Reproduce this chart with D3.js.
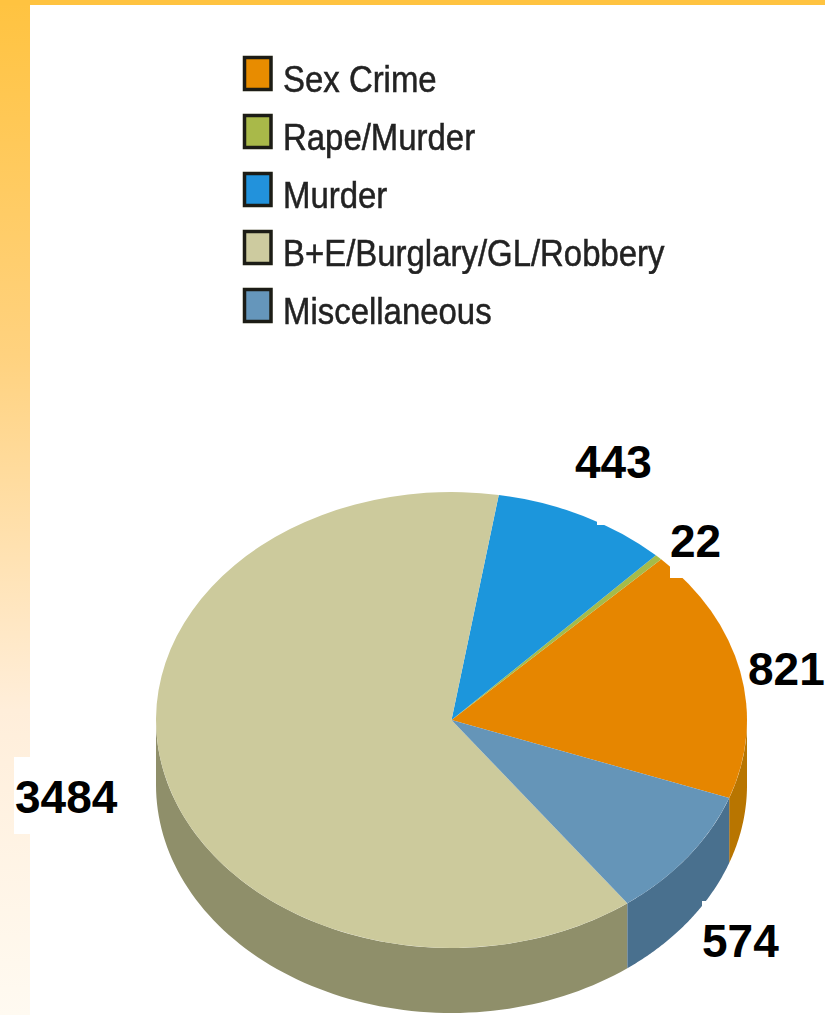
<!DOCTYPE html>
<html lang="en">
<head>
    <meta charset="UTF-8">
    <title>Crime categories</title>
    <script src="https://cdn.jsdelivr.net/npm/d3@7"></script>
    <style>
        html, body { margin: 0; padding: 0; background: #fff; }
        svg { display: block; }
        .legend-label { font-family: "Liberation Sans", Arial, sans-serif; font-size: 37px; fill: #222; stroke: #222; stroke-width: 0.5px; }
        .count-label { font-family: "Liberation Sans", Arial, sans-serif; font-size: 46px; font-weight: bold; fill: #000; }
    </style>
</head>
<body>
    <svg width="825" height="1015"></svg>
    <script>
        var categories = ['Sex Crime', 'Rape/Murder', 'Murder', 'B+E/Burglary/GL/Robbery', 'Miscellaneous'];
        // numbers printed next to the pie
        var counts = [821, 22, 443, 3484, 574];
        // share of the circle each slice really takes up in the picture (%),
        // the printed counts do not give these angles
        var sliceShares = [18.0, 0.4, 9.6, 62.7, 9.3];

        var topColors = ['#e68600', '#a5bb4a', '#1e96dc', '#ccca9c', '#6595b8'];
        var sideColors = ['#b87400', '#7f8c3a', '#17709f', '#8f8f6b', '#4a6f8e'];
        var swatchColors = ['#e88c00', '#a9b948', '#2092dc', '#cdcb9f', '#6596bb'];

        // where each count sits: x, baseline y, and the white patch behind it
        var labelSpots = [
            { x: 748, y: 685 },
            { x: 670, y: 557, patch: [670, 525, 52, 53] },
            { x: 575, y: 478, patch: [597, 490, 73, 35] },
            { x: 15, y: 813, patch: [14, 757, 129, 77] },
            { x: 702, y: 957, patch: [702, 901, 84, 74] }
        ];

        var svg = d3.select('svg'),
            width = parseInt(svg.attr('width')),
            height = parseInt(svg.attr('height')),
            cx = 451.5,
            cy = 720,
            rx = 295.5,
            ry = 228,
            depth = 65,
            rad = Math.PI / 180;

        var defs = svg.append('defs');

        var grad = defs.append('linearGradient')
            .attr('id', 'band')
            .attr('x1', 0).attr('y1', 0)
            .attr('x2', 0).attr('y2', 1);
        grad.append('stop').attr('offset', '0%').attr('stop-color', '#ffc340');
        grad.append('stop').attr('offset', '35%').attr('stop-color', '#ffd27f');
        grad.append('stop').attr('offset', '70%').attr('stop-color', '#ffeeda');
        grad.append('stop').attr('offset', '100%').attr('stop-color', '#fffaf1');

        defs.append('filter')
            .attr('id', 'soft')
            .append('feGaussianBlur')
            .attr('stdDeviation', 0.7);

        // page frame
        svg.append('rect')
            .attr('width', 30).attr('height', height)
            .attr('fill', 'url(#band)');
        svg.append('rect')
            .attr('width', width).attr('height', 5)
            .attr('fill', '#ffc340');

        // legend
        var legendY = d3.scalePoint()
            .domain(categories)
            .range([92, 324]);

        var legend = svg.append('g').attr('filter', 'url(#soft)');

        legend.selectAll('rect')
            .data(categories)
            .enter()
            .append('rect')
            .attr('x', 244.5)
            .attr('y', function(d) { return legendY(d) - 34.5; })
            .attr('width', 26.5)
            .attr('height', 32)
            .attr('fill', function(d, i) { return swatchColors[i]; })
            .attr('stroke', '#1c1c14')
            .attr('stroke-width', 3.5);

        legend.selectAll('text')
            .data(categories)
            .enter()
            .append('text')
            .classed('legend-label', true)
            .attr('transform', function(d) {
                return 'translate(' + [283, legendY(d)] + ') scale(0.89,1)';
            })
            .text(function(d) { return d; });

        // pie, going counter-clockwise from the orange / grey-blue edge
        var pie = d3.pie()
            .sort(null)
            .startAngle(110 * rad)
            .endAngle(-250 * rad);

        var slices = pie(sliceShares);

        var arc = d3.arc()
            .innerRadius(0)
            .outerRadius(rx);

        function rimX(a) { return cx + rx * Math.sin(a); }
        function rimY(a) { return cy - ry * Math.cos(a); }

        var rimLine = d3.line()
            .x(function(d) { return rimX(d.a); })
            .y(function(d) { return rimY(d.a) + d.drop; });

        // wall below one slice, only the part on the front half of the pie
        function wall(s) {
            var lo = Math.min(s.startAngle, s.endAngle),
                hi = Math.max(s.startAngle, s.endAngle),
                visible = [];
            // the big slice wraps past the top, so check it one turn on as well
            [0, 2 * Math.PI].forEach(function(turn) {
                var a0 = Math.max(lo + turn, 90 * rad),
                    a1 = Math.min(hi + turn, 270 * rad);
                if (a1 > a0) visible.push([a0, a1]);
            });
            return visible.map(function(v) {
                var steps = d3.range(0, 1.0001, 1 / 80).map(function(t) {
                    return v[0] + (v[1] - v[0]) * t;
                });
                var top = steps.map(function(a) { return { a: a, drop: 0 }; }),
                    bottom = steps.slice().reverse().map(function(a) { return { a: a, drop: depth }; });
                return rimLine(top.concat(bottom)) + 'Z';
            }).join(' ');
        }

        var pieG = svg.append('g').attr('filter', 'url(#soft)');

        pieG.append('g').selectAll('path')
            .data(slices)
            .enter()
            .append('path')
            .attr('d', wall)
            .attr('fill', function(d, i) { return sideColors[i]; });

        pieG.append('g')
            .attr('transform', 'translate(' + [cx, cy] + ') scale(1,' + (ry / rx) + ')')
            .selectAll('path')
            .data(slices)
            .enter()
            .append('path')
            .attr('d', arc)
            .attr('fill', function(d, i) { return topColors[i]; });

        // counts, pasted on white patches that bite into the pie
        svg.append('g').selectAll('rect')
            .data(labelSpots.filter(function(d) { return d.patch; }))
            .enter()
            .append('rect')
            .attr('x', function(d) { return d.patch[0]; })
            .attr('y', function(d) { return d.patch[1]; })
            .attr('width', function(d) { return d.patch[2]; })
            .attr('height', function(d) { return d.patch[3]; })
            .attr('fill', '#fff');

        svg.append('g').selectAll('text')
            .data(counts)
            .enter()
            .append('text')
            .classed('count-label', true)
            .attr('x', function(d, i) { return labelSpots[i].x; })
            .attr('y', function(d, i) { return labelSpots[i].y; })
            .text(function(d) { return d; });
    </script>
</body>
</html>
